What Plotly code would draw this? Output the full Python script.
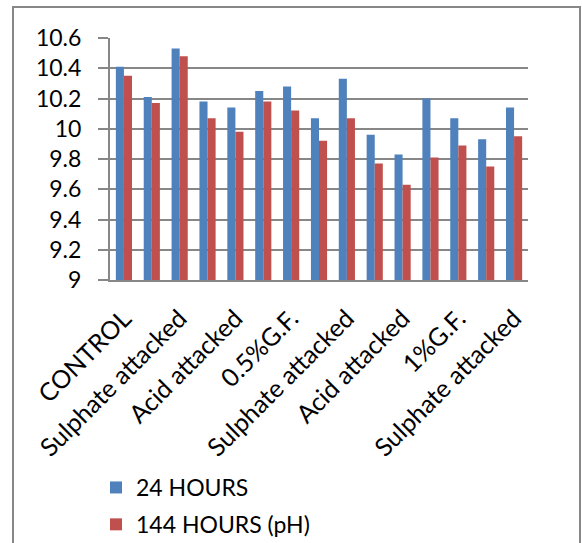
import plotly.graph_objects as go

# pH readings for the fifteen mixes
group_index = list(range(15))
ph_24h = [10.41, 10.21, 10.53, 10.18, 10.14, 10.25, 10.28, 10.07,
          10.33, 9.96, 9.83, 10.20, 10.07, 9.93, 10.14]
ph_144h = [10.35, 10.17, 10.48, 10.07, 9.98, 10.18, 10.12, 9.92,
           10.07, 9.77, 9.63, 9.81, 9.89, 9.75, 9.95]

# every other group carries a label
tick_labels = ["CONTROL", "Sulphate attacked", "Acid attacked", "0.5%G.F.",
               "Sulphate attacked", "Acid attacked", "1%G.F.", "Sulphate attacked"]
tick_positions = group_index[::2]

y_ticks = [9, 9.2, 9.4, 9.6, 9.8, 10, 10.2, 10.4, 10.6]
y_tick_text = ["9", "9.2", "9.4", "9.6", "9.8", "10", "10.2", "10.4", "10.6"]

BLUE = "#4F81BD"
RED = "#C0504D"
GRID = "#878787"
FONT = "Lato, 'Open Sans', sans-serif"

W, H = 582, 543
L, R, T, B = 110, 54, 38, 263
pw, ph = W - L - R, H - T - B

fig = go.Figure()
fig.add_trace(go.Bar(x=group_index, y=ph_24h, name="24 HOURS",
                     legendgroup="a",
                     marker=dict(color=BLUE, line=dict(width=0))))
fig.add_trace(go.Bar(x=group_index, y=ph_144h, name="144 HOURS (pH)",
                     legendgroup="b",
                     marker=dict(color=RED, line=dict(width=0))))


def px_to_paper_x(px):
    return (px - L) / pw


def px_to_paper_y(py):
    return (H - B - py) / ph


# outer chart frame
fig.add_shape(type="rect", xref="paper", yref="paper",
              x0=px_to_paper_x(13), x1=px_to_paper_x(580),
              y0=px_to_paper_y(560), y1=px_to_paper_y(7),
              line=dict(color=GRID, width=2), fillcolor="rgba(0,0,0,0)",
              layer="below")

fig.update_layout(
    width=W, height=H,
    margin=dict(l=L, r=R, t=T, b=B, pad=0, autoexpand=False),
    paper_bgcolor="white", plot_bgcolor="white",
    barmode="group", bargap=0.42, bargroupgap=0,
    font=dict(family=FONT, size=23, color="black"),
    showlegend=True,
    legend=dict(orientation="v", xref="container", yref="container",
                x=96 / W, y=1 - 466 / H,
                xanchor="left", yanchor="top",
                font=dict(size=23, family=FONT), itemwidth=30,
                tracegroupgap=4, bgcolor="rgba(0,0,0,0)"),
    xaxis=dict(range=[-0.5, 14.5], tickmode="array",
               tickvals=tick_positions, ticktext=tick_labels,
               tickangle=-45, showgrid=False, zeroline=False,
               showline=True, linecolor=GRID, linewidth=2,
               ticks="", automargin=False, ticklabelstandoff=12,
               tickfont=dict(size=25, family=FONT)),
    yaxis=dict(range=[9, 10.6], tickmode="array", tickvals=y_ticks,
               ticktext=y_tick_text, showgrid=True, gridcolor=GRID,
               gridwidth=2, zeroline=False, showline=True,
               linecolor=GRID, linewidth=2, ticks="outside",
               ticklen=10, tickcolor=GRID, tickwidth=2,
               ticklabelstandoff=12, automargin=False,
               tickfont=dict(size=23, family=FONT)),
)

fig.write_html("out.html")
